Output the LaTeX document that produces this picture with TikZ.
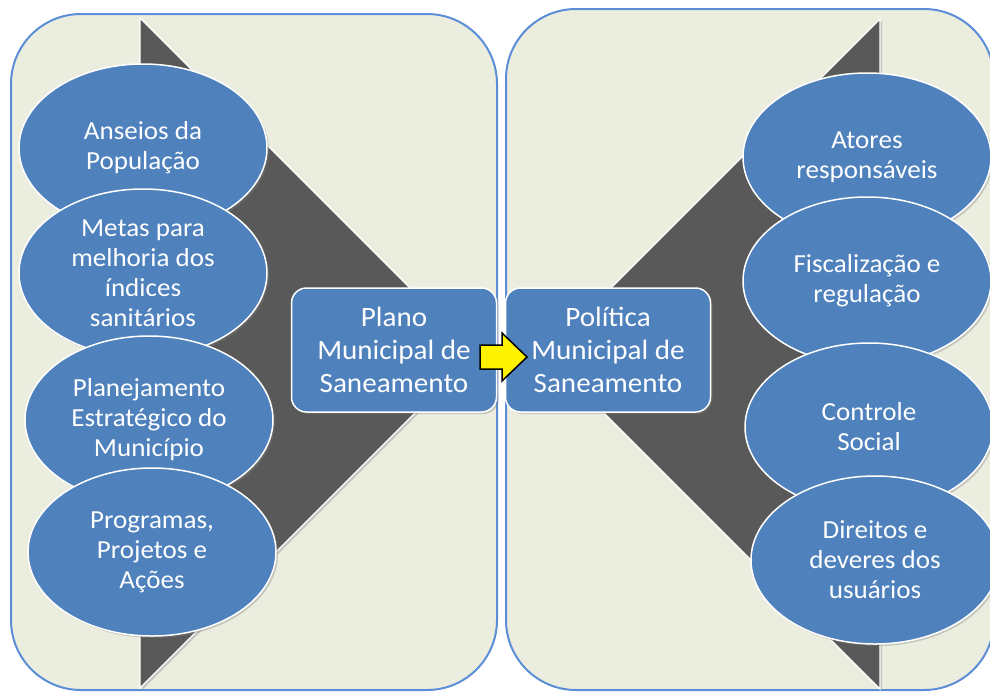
\documentclass[tikz,border=0pt]{standalone}
\usepackage{fontspec}
\setmainfont{Carlito}[FakeStretch=1.04]
\usetikzlibrary{shapes.geometric,shadows}
\definecolor{panelfill}{HTML}{EBEEDF}
\definecolor{panelline}{HTML}{5B8ED6}
\definecolor{bubblefill}{HTML}{4F81BD}
\definecolor{wedgefill}{HTML}{595959}
\tikzset{
  panel/.style={draw=panelline, fill=panelfill, line width=2pt, rounded corners=70pt},
  wedge/.style={draw=white, fill=wedgefill, line width=1.2pt,
    drop shadow={shadow xshift=2pt, shadow yshift=-2pt, opacity=0.35}},
  bubble/.style={ellipse, draw=white, fill=bubblefill, line width=1.5pt, text=white,
    minimum width=248pt, minimum height=168pt, inner sep=0pt, align=center,
    font=\fontsize{26}{30}\selectfont,
    drop shadow={shadow xshift=2pt, shadow yshift=-2pt, opacity=0.35}},
  plate/.style={rectangle, rounded corners=15pt, draw=white, fill=bubblefill, line width=1.5pt,
    text=white, minimum width=205pt, minimum height=124pt, align=center,
    font=\fontsize{28}{33}\selectfont,
    drop shadow={shadow xshift=2pt, shadow yshift=-2pt, opacity=0.35}},
  pointer/.style={draw=black, fill=yellow, line width=1.5pt, line join=miter}
}
\begin{document}
\begin{tikzpicture}[x=1pt, y=-1pt]
  \useasboundingbox (0,0) rectangle (990,691);
  \clip (0,0) rectangle (990,691);
  % panels
  \draw[panel] (11,14) rectangle (497,690);
  \draw[panel] (506,9) rectangle (994,690);
  % wedges
  \draw[wedge] (140,18) -- (475,353) -- (140,688) -- cycle;
  \draw[wedge] (880,19) -- (545,354) -- (880,689) -- cycle;
  % left bubbles
  \path
    (143,148) node[bubble] (anseios) {Anseios da\\População}
    (143,273) node[bubble] (metas) {Metas para\\melhoria dos\\índices\\sanitários}
    (149,420) node[bubble] (planej) {Planejamento\\Estratégico do\\Município}
    (152,552) node[bubble] (program) {Programas,\\Projetos e\\Ações};
  % right bubbles
  \path
    (867,157) node[bubble] (atores) {Atores\\responsáveis}
    (867,281) node[bubble] (fiscal) {Fiscalização e\\regulação}
    (869,427) node[bubble] (controle) {Controle\\Social}
    (875,560) node[bubble] (direitos) {Direitos e\\deveres dos\\usuários};
  % centre
  \path
    (394,350) node[plate] (plano) {Plano\\Municipal de\\Saneamento}
    (608,350) node[plate] (politica) {Política\\Municipal de\\Saneamento};
  \draw[pointer] (480,345) -- (502,345) -- (502,333) -- (527,357)
    -- (502,381) -- (502,369) -- (480,369) -- cycle;
\end{tikzpicture}
\end{document}
